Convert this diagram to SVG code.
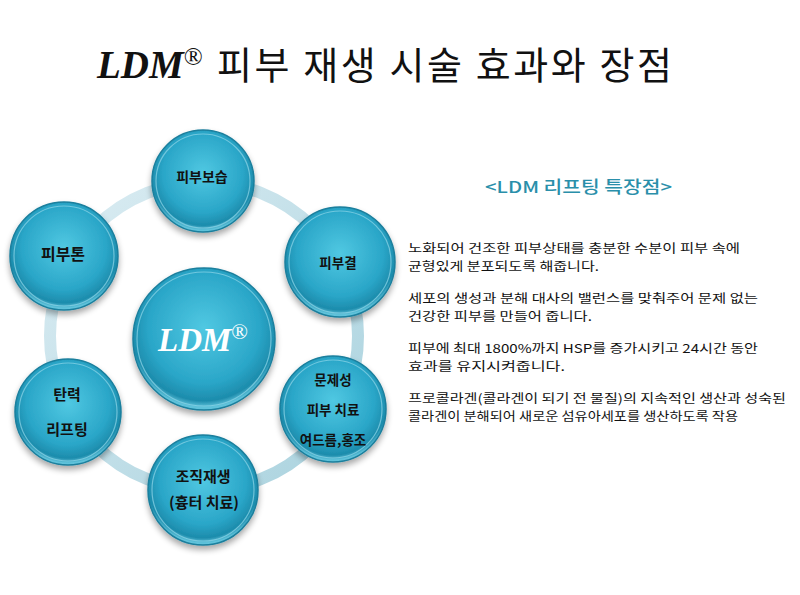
<svg xmlns="http://www.w3.org/2000/svg" width="800" height="595" viewBox="0 0 800 595">
<defs>
<radialGradient id="nodeG" cx="50%" cy="42%" r="56%">
<stop offset="0" stop-color="#50c8e2"/>
<stop offset="0.7" stop-color="#2aa6c8"/>
<stop offset="0.92" stop-color="#1d8cac"/>
<stop offset="1" stop-color="#5fc2da"/>
</radialGradient>
<linearGradient id="ringG" x1="0" y1="0" x2="1" y2="1">
<stop offset="0" stop-color="#dcedf3"/>
<stop offset="1" stop-color="#a9d2de"/>
</linearGradient>
<filter id="sh" x="-20%" y="-20%" width="140%" height="150%">
<feGaussianBlur in="SourceAlpha" stdDeviation="3"/>
<feOffset dy="4" result="b"/>
<feComponentTransfer><feFuncA type="linear" slope="0.35"/></feComponentTransfer>
<feMerge><feMergeNode/><feMergeNode in="SourceGraphic"/></feMerge>
</filter>
</defs>
<style>
.node{fill:url(#nodeG);stroke:#1a7f9d;stroke-width:1.5;filter:url(#sh)}
.rim{fill:none;stroke:#8fd6e8;stroke-width:1.2;opacity:0.7}
.lbl{font-family:"Noto Sans CJK KR","Noto Sans",sans-serif;font-weight:700;fill:#111;text-anchor:middle}
.body{font-family:"Noto Sans CJK KR","Noto Sans",sans-serif;font-size:12.4px;fill:#111}
</style>
<rect width="800" height="595" fill="#fff"/>
<text x="97" y="78" font-family="Liberation Serif,serif" font-weight="700" font-style="italic" font-size="39" fill="#111">LDM<tspan font-size="25" dy="-13" font-style="normal" font-weight="400">®</tspan></text>
<text x="217" y="79" font-family="'Noto Sans CJK KR',sans-serif" font-size="38" fill="#111" textLength="455" lengthAdjust="spacing">피부 재생 시술 효과와 장점</text>
<g id="connectors">
<circle cx="204" cy="336" r="154" fill="none" stroke="url(#ringG)" stroke-width="12"/>
</g>
<g id="center">
<circle class="node" cx="204" cy="339" r="71"/>
<circle class="rim" cx="204" cy="339" r="67"/>
<text x="203" y="351" font-family="Liberation Serif,serif" font-weight="700" font-style="italic" font-size="33" fill="#fff" text-anchor="middle">LDM<tspan font-size="22" dy="-12" font-style="normal" font-weight="400">®</tspan></text>
</g>
<g id="n1">
<circle class="node" cx="203" cy="181" r="51"/>
<circle class="rim" cx="203" cy="181" r="47"/>
<text class="lbl" x="202" y="182" font-size="14">피부보습</text>
</g>
<g id="n2">
<circle class="node" cx="340" cy="262" r="55"/>
<circle class="rim" cx="340" cy="262" r="51"/>
<text class="lbl" x="338" y="268" font-size="13.5">피부결</text>
</g>
<g id="n3">
<circle class="node" cx="333" cy="409" r="53"/>
<circle class="rim" cx="333" cy="409" r="49"/>
<text class="lbl" x="333" y="385" font-size="13.5">문제성</text>
<text class="lbl" x="333" y="415" font-size="13.5">피부 치료</text>
<text class="lbl" x="333" y="445" font-size="13.5">여드름,홍조</text>
</g>
<g id="n4">
<circle class="node" cx="203" cy="490" r="55"/>
<circle class="rim" cx="203" cy="490" r="51"/>
<text class="lbl" x="203" y="482" font-size="15">조직재생</text>
<text class="lbl" x="204" y="508" font-size="15">(흉터 치료)</text>
</g>
<g id="n5">
<circle class="node" cx="68" cy="412" r="53"/>
<circle class="rim" cx="68" cy="412" r="49"/>
<text class="lbl" x="67" y="400" font-size="15">탄력</text>
<text class="lbl" x="67" y="435" font-size="15">리프팅</text>
</g>
<g id="n6">
<circle class="node" cx="64" cy="256" r="54"/>
<circle class="rim" cx="64" cy="256" r="50"/>
<text class="lbl" x="63" y="260" font-size="16">피부톤</text>
</g>
<g id="panel">
<text x="485" y="193" font-family="'Noto Sans CJK KR',sans-serif" font-size="16.5" font-weight="500" fill="#2a8faa" textLength="187" lengthAdjust="spacingAndGlyphs">&lt;LDM 리프팅 특장점&gt;</text>
<text class="body" x="408" y="253" textLength="332" lengthAdjust="spacingAndGlyphs">노화되어 건조한 피부상태를 충분한 수분이 피부 속에</text>
<text class="body" x="408" y="271" textLength="191" lengthAdjust="spacingAndGlyphs">균형있게 분포되도록 해줍니다.</text>
<text class="body" x="408" y="303" textLength="350" lengthAdjust="spacingAndGlyphs">세포의 생성과 분해 대사의 밸런스를 맞춰주어 문제 없는</text>
<text class="body" x="408" y="321" textLength="184" lengthAdjust="spacingAndGlyphs">건강한 피부를 만들어 줍니다.</text>
<text class="body" x="408" y="353" textLength="350" lengthAdjust="spacingAndGlyphs">피부에 최대 1800%까지 HSP를 증가시키고 24시간 동안</text>
<text class="body" x="408" y="371" textLength="157" lengthAdjust="spacingAndGlyphs">효과를 유지시켜줍니다.</text>
<text class="body" x="408" y="403" textLength="378" lengthAdjust="spacingAndGlyphs">프로콜라겐(콜라겐이 되기 전 물질)의 지속적인 생산과 성숙된</text>
<text class="body" x="408" y="421" textLength="330" lengthAdjust="spacingAndGlyphs">콜라겐이 분해되어 새로운 섬유아세포를 생산하도록 작용</text>
</g>
</svg>
